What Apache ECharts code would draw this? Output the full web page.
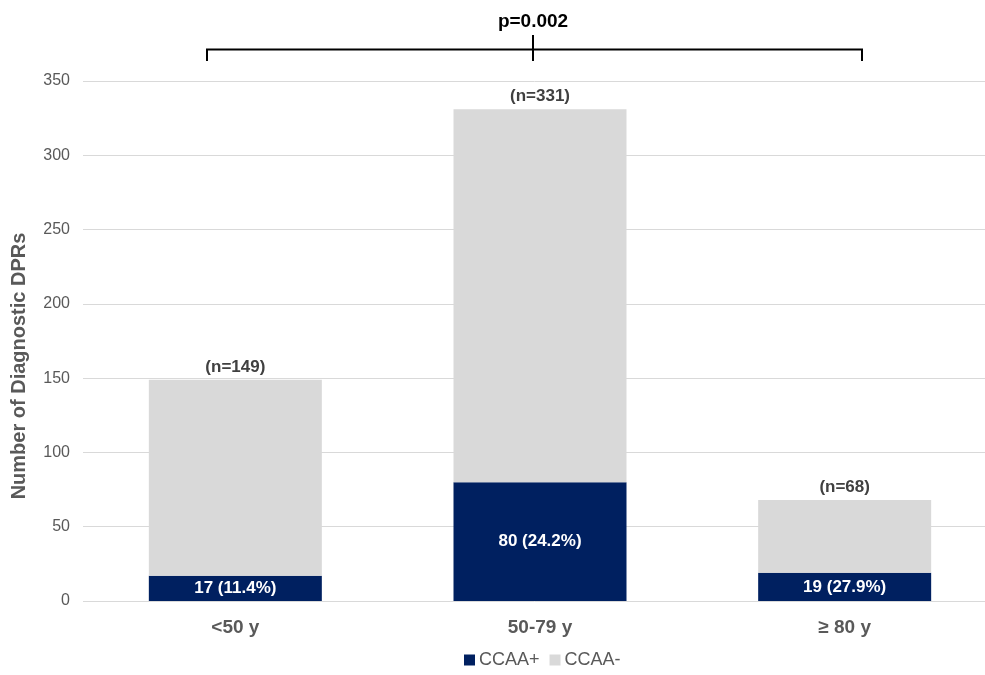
<!DOCTYPE html>
<html>
<head>
<meta charset="utf-8">
<script src="https://cdn.jsdelivr.net/npm/echarts@6/dist/echarts.min.js"></script>
<style>html,body{margin:0;padding:0;background:#fff}#c{width:985px;height:675px}</style>
</head>
<body>
<div id="c"></div>
<script>
const categories = ['<50 y', '50-79 y', '≥ 80 y'];
const ccaaPos = [17, 80, 19];
const ccaaNeg = [132, 251, 49];
const posPct = ['11.4%', '24.2%', '27.9%'];
const totals = [149, 331, 68];
const yTicks = [0, 50, 100, 150, 200, 250, 300, 350];
const yTitle = 'Number of Diagnostic DPRs';
const pText = 'p=0.002';

const font = 'Liberation Sans, Arial, sans-serif';
const chart = echarts.init(document.getElementById('c'));
chart.setOption({
  animation: false,
  grid: { left: 83, top: 81, width: 914, height: 520, containLabel: false, outerBoundsMode: 'none' },
  legend: {
    bottom: 1, left: 459, itemWidth: 11, itemHeight: 11, itemGap: 10,
    icon: 'rect',
    textStyle: { fontFamily: font, fontSize: 18, color: '#595959', padding: [0, 0, 0, -1] },
    data: ['CCAA+', 'CCAA-']
  },
  xAxis: {
    type: 'category', data: categories,
    axisLine: { show: false }, axisTick: { show: false },
    axisLabel: { fontFamily: font, fontSize: 19, fontWeight: 'bold', color: '#595959', margin: 17 }
  },
  yAxis: {
    type: 'value', min: yTicks[0], max: yTicks[yTicks.length - 1], interval: 50,
    axisLabel: { fontFamily: font, fontSize: 16, color: '#595959', margin: 13 },
    axisLine: { show: false }, axisTick: { show: false },
    splitLine: { lineStyle: { color: '#d9d9d9', width: 1 } }
  },
  series: [
    {
      name: 'CCAA+', type: 'bar', stack: 'a', data: ccaaPos, barWidth: 173,
      itemStyle: { color: '#002060' },
      label: {
        show: true, position: 'inside', fontFamily: font, fontSize: 17, fontWeight: 'bold', color: '#fff',
        formatter: p => p.value + ' (' + posPct[p.dataIndex] + ')'
      }
    },
    {
      name: 'CCAA-', type: 'bar', stack: 'a', data: ccaaNeg, barWidth: 173,
      itemStyle: { color: '#d9d9d9' },
      label: {
        show: true, position: 'top', distance: 4, fontFamily: font, fontSize: 17, fontWeight: 'bold', color: '#404040',
        formatter: p => '(n=' + totals[p.dataIndex] + ')'
      }
    }
  ],
  graphic: [
    { type: 'text', x: 19, y: 366, rotation: Math.PI / 2, style: { text: yTitle, x: 0, y: 0, align: 'center', verticalAlign: 'middle', font: 'bold 20px ' + font, fill: '#595959' } },
    { type: 'text', style: { text: pText, x: 533, y: 12, align: 'center', font: 'bold 19px ' + font, fill: '#000' } },
    { type: 'polyline', shape: { points: [[207, 61], [207, 49.5], [862, 49.5], [862, 61]] }, style: { stroke: '#000', lineWidth: 2, fill: null } },
    { type: 'line', shape: { x1: 533, y1: 35, x2: 533, y2: 61 }, style: { stroke: '#000', lineWidth: 2 } }
  ]
});
</script>
</body>
</html>
